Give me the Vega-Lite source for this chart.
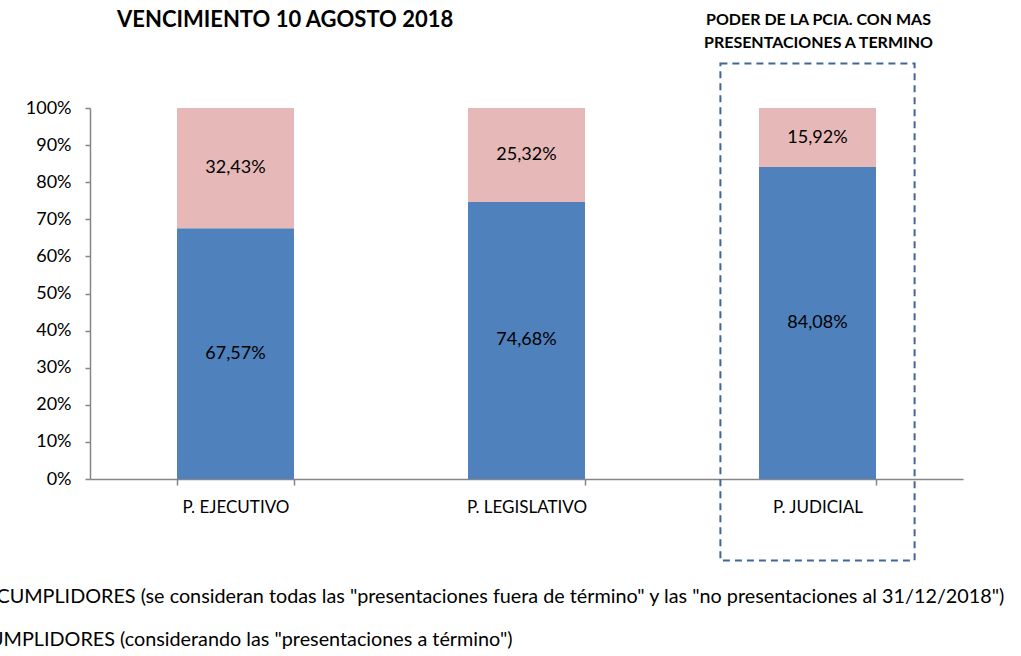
{
  "$schema": "https://vega.github.io/schema/vega-lite/v6.json",
  "width": 873,
  "height": 371,
  "autosize": {"type": "none"},
  "padding": {"left": 90, "top": 108, "right": 58, "bottom": 177},
  "background": "white",
  "config": {
    "locale": {"number": {"decimal": ",", "thousands": ".", "grouping": [3], "currency": ["$", ""]}},
    "font": "Lato",
    "view": {"stroke": null},
    "axisX": {
      "title": null,
      "labelAngle": 0,
      "labelFontSize": 17,
      "labelColor": "#000000",
      "labelPadding": 14,
      "domainColor": "#868686",
      "domainWidth": 1.5,
      "tickColor": "#868686",
      "tickWidth": 1.5,
      "tickSize": 6,
      "tickBand": "extent"
    },
    "axisY": {
      "title": null,
      "format": ".0%",
      "tickCount": 11,
      "grid": false,
      "labelOverlap": false,
      "labelFontSize": 18,
      "labelColor": "#000000",
      "labelPadding": 14,
      "domainColor": "#868686",
      "domainWidth": 1.5,
      "tickColor": "#868686",
      "tickWidth": 1.5,
      "tickSize": 5
    }
  },
  "title": {
    "text": "VENCIMIENTO 10 AGOSTO 2018",
    "anchor": "start",
    "frame": "group",
    "fontSize": 22,
    "fontWeight": "bold",
    "font": "Lato",
    "color": "#000000",
    "dx": 27,
    "dy": 20,
    "offset": 0
  },
  "datasets": {
    "valores": [
      {"poder": "P. EJECUTIVO", "tipo": "CUMPLIDORES (considerando las \"presentaciones a término\")", "valor": 0.6757},
      {"poder": "P. EJECUTIVO", "tipo": "INCUMPLIDORES (se consideran todas las \"presentaciones fuera de término\" y las \"no presentaciones al 31/12/2018\")", "valor": 0.3243},
      {"poder": "P. LEGISLATIVO", "tipo": "CUMPLIDORES (considerando las \"presentaciones a término\")", "valor": 0.7468},
      {"poder": "P. LEGISLATIVO", "tipo": "INCUMPLIDORES (se consideran todas las \"presentaciones fuera de término\" y las \"no presentaciones al 31/12/2018\")", "valor": 0.2532},
      {"poder": "P. JUDICIAL", "tipo": "CUMPLIDORES (considerando las \"presentaciones a término\")", "valor": 0.8408},
      {"poder": "P. JUDICIAL", "tipo": "INCUMPLIDORES (se consideran todas las \"presentaciones fuera de término\" y las \"no presentaciones al 31/12/2018\")", "valor": 0.1592}
    ],
    "destacado": [
      {"poder": "P. JUDICIAL", "arriba": 1.12, "abajo": -0.22, "nota": ["PODER DE LA PCIA. CON MAS", "PRESENTACIONES A TERMINO"], "ynota": 1.236}
    ]
  },
  "layer": [
    {
      "data": {"name": "valores"},
      "mark": {"type": "bar"},
      "encoding": {
        "x": {
          "field": "poder",
          "type": "nominal",
          "sort": ["P. EJECUTIVO", "P. LEGISLATIVO", "P. JUDICIAL"],
          "scale": {"paddingInner": 0.598, "paddingOuter": 0.299}
        },
        "y": {
          "field": "valor",
          "type": "quantitative",
          "stack": "zero",
          "scale": {"domain": [0, 1], "nice": false},
          "axis": {"values": [0, 0.1, 0.2, 0.3, 0.4, 0.5, 0.6, 0.7, 0.8, 0.9, 1], "tickCount": 11, "labelOverlap": false}
        },
        "color": {
          "field": "tipo",
          "type": "nominal",
          "scale": {
            "domain": [
              "INCUMPLIDORES (se consideran todas las \"presentaciones fuera de término\" y las \"no presentaciones al 31/12/2018\")",
              "CUMPLIDORES (considerando las \"presentaciones a término\")"
            ],
            "range": ["#E6B9B8", "#4F81BD"]
          },
          "legend": {
            "title": null,
            "orient": "none",
            "legendX": -140,
            "legendY": 479,
            "direction": "vertical",
            "labelFontSize": 19.8,
            "labelColor": "#000000",
            "labelLimit": 0,
            "symbolType": "square",
            "symbolSize": 100,
            "symbolStrokeWidth": 0,
            "labelOffset": 6,
            "rowPadding": 22,
            "padding": 0
          }
        },
        "order": {"field": "tipo", "sort": "ascending"}
      }
    },
    {
      "data": {"name": "valores"},
      "mark": {"type": "text", "fontSize": 18, "color": "#000000", "baseline": "middle", "align": "center"},
      "encoding": {
        "x": {"field": "poder", "type": "nominal", "sort": ["P. EJECUTIVO", "P. LEGISLATIVO", "P. JUDICIAL"]},
        "y": {"field": "valor", "type": "quantitative", "stack": "zero", "bandPosition": 0.5},
        "text": {"field": "valor", "type": "quantitative", "format": ".2%"},
        "order": {"field": "tipo", "sort": "ascending"}
      }
    },
    {
      "data": {"name": "destacado"},
      "mark": {"type": "bar", "filled": false, "stroke": "#41679A", "strokeWidth": 2, "strokeDash": [7, 5], "width": {"band": 1.66}, "clip": false},
      "encoding": {
        "x": {"field": "poder", "type": "nominal", "sort": ["P. EJECUTIVO", "P. LEGISLATIVO", "P. JUDICIAL"]},
        "y": {"field": "arriba", "type": "quantitative"},
        "y2": {"field": "abajo"}
      }
    },
    {
      "data": {"name": "destacado"},
      "mark": {"type": "text", "fontSize": 16, "fontWeight": "bold", "color": "#000000", "baseline": "middle", "align": "center", "lineHeight": 23, "dx": 1},
      "encoding": {
        "x": {"field": "poder", "type": "nominal", "sort": ["P. EJECUTIVO", "P. LEGISLATIVO", "P. JUDICIAL"]},
        "y": {"field": "ynota", "type": "quantitative"},
        "text": {"field": "nota"}
      }
    }
  ]
}
